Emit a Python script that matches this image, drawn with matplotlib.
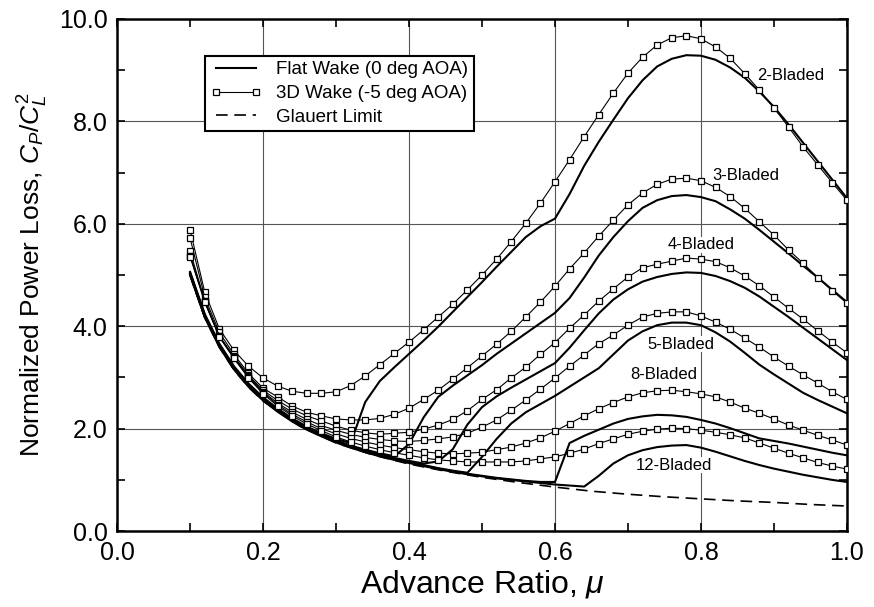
import numpy as np
import matplotlib
matplotlib.use("Agg")
import matplotlib.pyplot as plt
from matplotlib.ticker import MultipleLocator

plt.rcParams['font.family'] = ['Liberation Sans', 'DejaVu Sans']
plt.rcParams['mathtext.fontset'] = 'custom'
plt.rcParams['mathtext.rm'] = 'Liberation Sans'
plt.rcParams['mathtext.it'] = 'Liberation Sans:italic'

# advance ratio grid (every 0.02)
mu = [0.10, 0.12, 0.14, 0.16, 0.18, 0.20, 0.22, 0.24, 0.26, 0.28,
      0.30, 0.32, 0.34, 0.36, 0.38, 0.40, 0.42, 0.44, 0.46, 0.48,
      0.50, 0.52, 0.54, 0.56, 0.58, 0.60, 0.62, 0.64, 0.66, 0.68,
      0.70, 0.72, 0.74, 0.76, 0.78, 0.80, 0.82, 0.84, 0.86, 0.88,
      0.90, 0.92, 0.94, 0.96, 0.98, 1.00]

# 3D wake (-5 deg AOA)
wake3d_2 = [5.88, 4.67, 3.95, 3.53, 3.22, 2.99, 2.83, 2.73, 2.69, 2.69,
            2.72, 2.84, 3.03, 3.25, 3.47, 3.69, 3.93, 4.18, 4.43, 4.71,
            5.00, 5.31, 5.65, 6.01, 6.40, 6.82, 7.25, 7.70, 8.13, 8.55,
            8.94, 9.25, 9.49, 9.63, 9.67, 9.61, 9.45, 9.23, 8.93, 8.61,
            8.26, 7.89, 7.50, 7.15, 6.80, 6.46]
wake3d_3 = [5.72, 4.57, 3.88, 3.45, 3.08, 2.79, 2.62, 2.44, 2.32, 2.25,
            2.19, 2.17, 2.17, 2.20, 2.28, 2.40, 2.57, 2.75, 2.97, 3.19,
            3.42, 3.65, 3.90, 4.18, 4.47, 4.78, 5.12, 5.43, 5.76, 6.07,
            6.37, 6.60, 6.77, 6.87, 6.89, 6.84, 6.71, 6.53, 6.30, 6.04,
            5.78, 5.49, 5.23, 4.95, 4.69, 4.45]
wake3d_4 = [5.47, 4.50, 3.81, 3.41, 3.04, 2.75, 2.55, 2.38, 2.25, 2.15,
            2.05, 1.97, 1.92, 1.89, 1.91, 1.93, 1.99, 2.07, 2.18, 2.35,
            2.57, 2.76, 2.99, 3.20, 3.45, 3.68, 3.96, 4.22, 4.49, 4.73,
            4.96, 5.14, 5.21, 5.27, 5.33, 5.31, 5.26, 5.14, 4.98, 4.79,
            4.57, 4.35, 4.14, 3.91, 3.69, 3.48]
wake3d_5 = [5.38, 4.50, 3.81, 3.40, 3.02, 2.72, 2.50, 2.32, 2.18, 2.06,
            1.97, 1.89, 1.83, 1.79, 1.76, 1.75, 1.77, 1.80, 1.84, 1.91,
            2.03, 2.17, 2.36, 2.56, 2.77, 2.99, 3.22, 3.44, 3.66, 3.83,
            4.02, 4.18, 4.25, 4.28, 4.28, 4.20, 4.08, 3.94, 3.77, 3.59,
            3.40, 3.22, 3.05, 2.89, 2.72, 2.57]
wake3d_8 = [5.37, 4.48, 3.80, 3.38, 3.00, 2.70, 2.47, 2.28, 2.13, 2.00,
            1.90, 1.81, 1.74, 1.68, 1.63, 1.59, 1.55, 1.52, 1.51, 1.52,
            1.54, 1.59, 1.64, 1.72, 1.82, 1.95, 2.10, 2.25, 2.39, 2.51,
            2.62, 2.70, 2.74, 2.75, 2.72, 2.68, 2.62, 2.52, 2.40, 2.30,
            2.19, 2.07, 1.97, 1.87, 1.78, 1.68]
wake3d_12 = [5.36, 4.47, 3.79, 3.37, 2.99, 2.68, 2.44, 2.25, 2.09, 1.96,
             1.84, 1.74, 1.66, 1.59, 1.53, 1.48, 1.43, 1.39, 1.37, 1.35,
             1.35, 1.35, 1.35, 1.37, 1.41, 1.45, 1.52, 1.60, 1.71, 1.80,
             1.89, 1.95, 1.99, 2.01, 2.00, 1.97, 1.93, 1.88, 1.82, 1.72,
             1.62, 1.52, 1.43, 1.34, 1.27, 1.21]

# flat wake (0 deg AOA)
flat_2 = [5.06, 4.24, 3.66, 3.22, 2.88, 2.61, 2.39, 2.20, 2.04, 1.91,
          1.80, 1.72, 2.52, 2.93, 3.20, 3.46, 3.72, 3.99, 4.28, 4.57,
          4.86, 5.16, 5.45, 5.74, 5.95, 6.10, 6.58, 7.13, 7.60, 8.03,
          8.45, 8.80, 9.07, 9.22, 9.29, 9.28, 9.20, 9.05, 8.85, 8.58,
          8.28, 7.94, 7.58, 7.22, 6.86, 6.50]
flat_3 = [5.04, 4.22, 3.64, 3.20, 2.86, 2.59, 2.37, 2.18, 2.02, 1.89,
          1.77, 1.67, 1.59, 1.52, 1.46, 1.70, 2.22, 2.62, 2.84, 3.04,
          3.24, 3.46, 3.66, 3.86, 4.06, 4.26, 4.55, 4.95, 5.38, 5.74,
          6.05, 6.31, 6.46, 6.54, 6.56, 6.52, 6.44, 6.28, 6.10, 5.88,
          5.65, 5.42, 5.18, 4.95, 4.71, 4.47]
flat_4 = [5.03, 4.21, 3.63, 3.19, 2.85, 2.58, 2.36, 2.17, 2.01, 1.88,
          1.76, 1.66, 1.57, 1.50, 1.43, 1.37, 1.32, 1.36, 1.60, 2.08,
          2.42, 2.63, 2.80, 2.96, 3.12, 3.28, 3.58, 3.92, 4.25, 4.52,
          4.72, 4.87, 4.96, 5.02, 5.05, 5.04, 4.98, 4.88, 4.75, 4.58,
          4.38, 4.18, 3.97, 3.76, 3.55, 3.34]
flat_5 = [5.02, 4.20, 3.62, 3.18, 2.84, 2.57, 2.35, 2.16, 2.00, 1.87,
          1.75, 1.65, 1.56, 1.48, 1.41, 1.35, 1.29, 1.23, 1.18, 1.14,
          1.45, 1.80, 2.10, 2.32, 2.48, 2.64, 2.82, 3.00, 3.18, 3.45,
          3.72, 3.90, 4.02, 4.07, 4.07, 4.02, 3.88, 3.70, 3.48, 3.25,
          3.06, 2.88, 2.70, 2.56, 2.43, 2.30]
flat_8 = [5.01, 4.19, 3.61, 3.17, 2.83, 2.56, 2.34, 2.15, 1.99, 1.86,
          1.74, 1.64, 1.55, 1.47, 1.40, 1.34, 1.28, 1.22, 1.17, 1.12,
          1.08, 1.04, 1.01, 0.98, 0.96, 0.96, 1.72, 1.86, 1.98, 2.10,
          2.19, 2.24, 2.27, 2.26, 2.23, 2.17, 2.10, 2.01, 1.91, 1.81,
          1.76, 1.71, 1.65, 1.59, 1.53, 1.48]
flat_12 = [5.00, 4.18, 3.60, 3.16, 2.82, 2.55, 2.33, 2.14, 1.98, 1.85,
           1.73, 1.63, 1.54, 1.46, 1.39, 1.33, 1.27, 1.21, 1.16, 1.11,
           1.07, 1.03, 1.00, 0.97, 0.94, 0.91, 0.89, 0.87, 1.08, 1.32,
           1.48, 1.58, 1.64, 1.67, 1.68, 1.63, 1.55, 1.46, 1.37, 1.29,
           1.22, 1.16, 1.10, 1.05, 1.00, 0.96]

# Glauert limit
mu_glauert = [0.10, 0.12, 0.14, 0.16, 0.18, 0.20, 0.25, 0.30, 0.35, 0.40, 0.45,
              0.50, 0.55, 0.60, 0.65, 0.70, 0.75, 0.80, 0.85, 0.90, 0.95, 1.00]
glauert = [4.99, 4.17, 3.59, 3.15, 2.81, 2.54, 2.05, 1.72, 1.49, 1.31, 1.17,
           1.05, 0.95, 0.86, 0.78, 0.72, 0.67, 0.63, 0.59, 0.56, 0.52, 0.49]

blade_labels = ['2-Bladed', '3-Bladed', '4-Bladed', '5-Bladed', '8-Bladed', '12-Bladed']
label_x = [0.877, 0.815, 0.755, 0.726, 0.703, 0.710]
label_y = [8.89, 6.95, 5.59, 3.65, 3.05, 1.29]

flats = [flat_2, flat_3, flat_4, flat_5, flat_8, flat_12]
wakes = [wake3d_2, wake3d_3, wake3d_4, wake3d_5, wake3d_8, wake3d_12]

fig = plt.figure(figsize=(8.74, 6.07), dpi=100)
ax = fig.add_axes([0.134, 0.125, 0.835, 0.844])

ax.plot(mu_glauert, glauert, color='black', lw=1.2, dashes=(7, 4), zorder=2)
for k in range(len(flats)):
    ax.plot(mu, flats[k], color='black', lw=1.5, zorder=3)
    ax.plot(mu, wakes[k], color='black', lw=0.8, marker='s', ms=5,
            mfc='white', mec='black', mew=0.9, zorder=4)
    ax.text(label_x[k], label_y[k], blade_labels[k], fontsize=12,
            ha='left', va='center', zorder=5,
            bbox=dict(facecolor='white', edgecolor='none', pad=0.5))

# legend handles
h1, = ax.plot([], [], color='black', lw=1.5)
h2, = ax.plot([], [], color='black', lw=0.8, marker='s', ms=4.5,
              mfc='white', mec='black', mew=0.9)
h3, = ax.plot([], [], color='black', lw=1.2, dashes=(7, 4))
leg = ax.legend([h1, h2, h3],
                ['Flat Wake (0 deg AOA)', '3D Wake (-5 deg AOA)', 'Glauert Limit'],
                loc='upper left', bbox_to_anchor=(0.1205, 0.928),
                borderaxespad=0, fontsize=13.5, handlelength=2.7,
                handletextpad=0.8, labelspacing=0.35, borderpad=0.3,
                numpoints=2, fancybox=False, framealpha=1)
leg.get_frame().set_edgecolor('black')
leg.get_frame().set_linewidth(1.5)

ax.set_xlim(0, 1.0)
ax.set_ylim(0, 10.0)
ax.xaxis.set_major_locator(MultipleLocator(0.2))
ax.xaxis.set_minor_locator(MultipleLocator(0.1))
ax.yaxis.set_major_locator(MultipleLocator(2.0))
ax.yaxis.set_minor_locator(MultipleLocator(1.0))
ax.xaxis.set_major_formatter(plt.FuncFormatter(lambda v, p: '%.1f' % v))
ax.yaxis.set_major_formatter(plt.FuncFormatter(lambda v, p: '%.1f' % v))
ax.grid(True, which='major', color='#555555', lw=0.8)
ax.tick_params(which='both', direction='in', top=True, right=True,
               labelsize=18, width=1.2)
ax.tick_params(which='major', length=6, pad=7)
ax.tick_params(which='minor', length=6)
for s in ax.spines.values():
    s.set_linewidth(1.8)

ax.set_xlabel(r'Advance Ratio, $\mu$', fontsize=23, labelpad=2)
ax.set_ylabel(r'Normalized Power Loss, $C_P/C_L^2$', fontsize=19, labelpad=6)

fig.savefig('out.png', dpi=100)
